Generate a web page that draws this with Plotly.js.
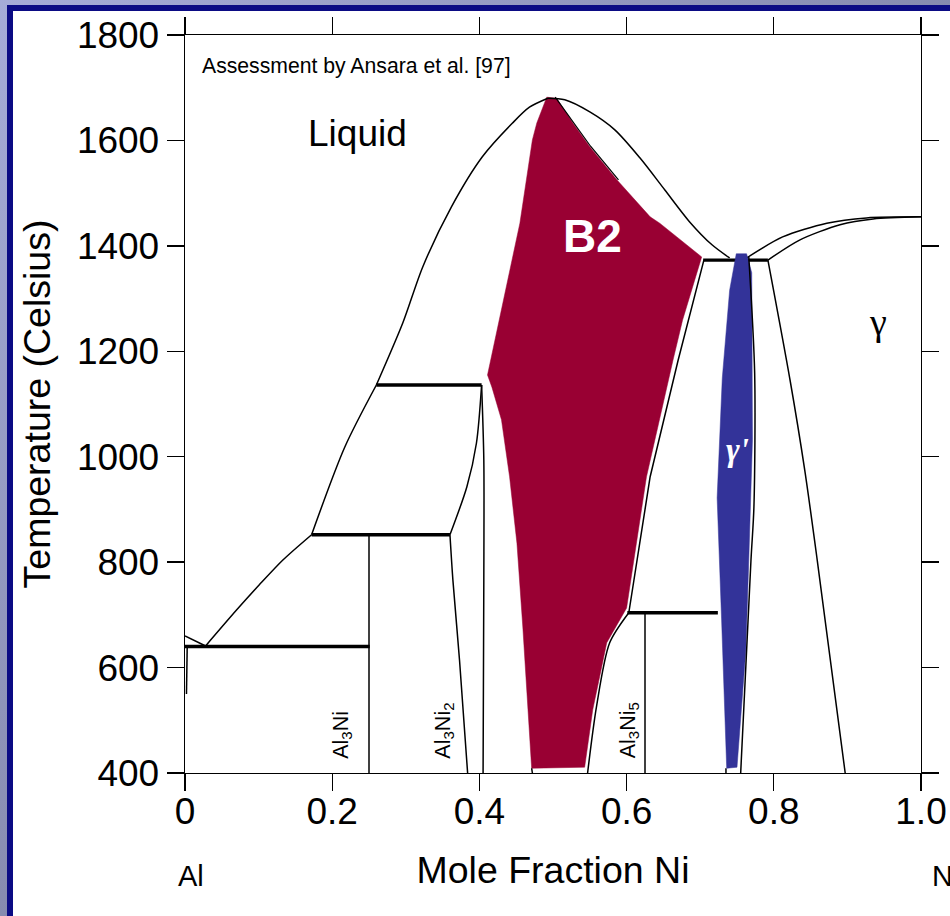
<!DOCTYPE html>
<html>
<head>
<meta charset="utf-8">
<script src="https://cdn.plot.ly/plotly-3.0.1.min.js"></script>
<style>
  html, body { margin:0; padding:0; width:950px; height:916px; overflow:hidden;
    background: linear-gradient(to bottom right, #a6acd8 0%, #8a8fb4 45%, #62667f 100%); }
  #panel { position:absolute; left:7px; top:5px; width:960px; height:930px; background:#fff;
    border-left:6px solid #0b0b84; border-top:6px solid #0b0b84; box-sizing:border-box; }
  #chart { position:absolute; left:0; top:0; width:950px; height:916px; }
</style>
</head>
<body>
<div id="panel"></div>
<div id="chart"></div>
<script>
// ---- axis ticks ----
const xTickVals = [0, 0.2, 0.4, 0.6, 0.8, 1.0];
const xTickText = ['0', '0.2', '0.4', '0.6', '0.8', '1.0'];
const yTickVals = [400, 600, 800, 1000, 1200, 1400, 1600, 1800];

// ---- phase boundaries (mole fraction Ni, temperature °C) ----
const alLiqX = [0, 0.028];                 const alLiqT = [660, 641];
const alSolvX = [0.003, 0.002];            const alSolvT = [641, 550];
const eut640X = [0, 0.251];                const eut640T = [640, 640];
const liqA_X = [0.028, 0.070, 0.101, 0.133, 0.172];
const liqA_T = [641, 709, 757, 804, 852];
const per852X = [0.172, 0.360];            const per852T = [852, 852];
const al3NiX = [0.25, 0.25];               const al3NiT = [400, 852];
const liqB_X = [0.172, 0.217, 0.260];
const liqB_T = [852, 1018, 1136];
const liqC_X = [0.260, 0.296, 0.323, 0.362, 0.404, 0.445, 0.468, 0.493];
const liqC_T = [1136, 1254, 1360, 1474, 1569, 1633, 1663, 1680];
const liqD_X = [0.493, 0.516, 0.550, 0.584, 0.618, 0.652, 0.686, 0.716, 0.740];
const liqD_T = [1680, 1677, 1654, 1620, 1567, 1506, 1445, 1402, 1377];
const per1136X = [0.260, 0.403];           const per1136T = [1136, 1136];
const al3Ni2LeftUpX = [0.403, 0.396, 0.383, 0.360];
const al3Ni2LeftUpT = [1136, 1026, 943, 852];
const al3Ni2LeftLoX = [0.360, 0.364, 0.373, 0.384];
const al3Ni2LeftLoT = [852, 766, 614, 400];
const al3Ni2RightX = [0.403, 0.406, 0.406, 0.405];
const al3Ni2RightT = [1136, 994, 766, 400];
const b2SolTopX = [0.503, 0.528, 0.551, 0.589];
const b2SolTopT = [1682, 1634, 1589, 1525];
const b2RightUpX = [0.705, 0.670, 0.632, 0.603];
const b2RightUpT = [1373, 1183, 962, 704];
const b2RightLoX = [0.603, 0.577, 0.559, 0.547];
const b2RightLoT = [704, 647, 525, 400];
const b2FootX = [0.471, 0.472];            const b2FootT = [409, 400];
const per1373X = [0.704, 0.792];           const per1373T = [1373, 1373];
const per704X = [0.601, 0.724];            const per704T = [704, 704];
const al3Ni5X = [0.625, 0.625];            const al3Ni5T = [400, 704];
const gpFootX = [0.735, 0.735];            const gpFootT = [409, 400];
const gpRightX = [0.766, 0.774, 0.773, 0.769, 0.755];
const gpRightT = [1379, 1159, 905, 804, 400];
const gSolvX = [0.792, 0.822, 0.842, 0.859, 0.897];
const gSolvT = [1373, 1146, 975, 804, 400];
const niLiqX = [0.763, 0.812, 0.872, 0.926, 1.0];
const niLiqT = [1377, 1417, 1443, 1453, 1455];
const niSolX = [0.792, 0.835, 0.890, 0.935, 1.0];
const niSolT = [1373, 1411, 1440, 1451, 1455];

// ---- single-phase regions (filled) ----
const b2X = [0.4915, 0.505, 0.527, 0.550, 0.587, 0.632, 0.645, 0.686, 0.702, 0.676, 0.663, 0.627, 0.600, 0.573, 0.554, 0.543, 0.471, 0.459, 0.451, 0.441, 0.430, 0.417, 0.411, 0.455, 0.472, 0.478, 0.4915];
const b2T = [1682, 1680, 1633, 1588, 1525, 1455, 1443, 1398, 1379, 1259, 1183, 962, 713, 647, 520, 411, 409, 677, 836, 962, 1070, 1132, 1155, 1443, 1601, 1633, 1682];
const gpX = [0.749, 0.763, 0.770, 0.771, 0.766, 0.762, 0.750, 0.736, 0.729, 0.723, 0.730, 0.740, 0.749];
const gpT = [1385, 1385, 1349, 1032, 804, 633, 411, 409, 694, 922, 1149, 1316, 1385];

const B2_COLOR = '#990033';
const GP_COLOR = '#333399';
const FONT = 'Liberation Sans, Arial, Helvetica, sans-serif';
const SERIF = 'Liberation Serif, DejaVu Serif, serif';

function ln(x, y, w, smooth) {
  return { type: 'scatter', mode: 'lines', x: x, y: y, hoverinfo: 'skip', showlegend: false,
    line: { color: '#000', width: w, shape: smooth ? 'spline' : 'linear', smoothing: 0.8 } };
}
function fill(x, y, c) {
  return { type: 'scatter', mode: 'lines', x: x, y: y, fill: 'toself', fillcolor: c,
    line: { color: c, width: 0.5 }, hoverinfo: 'skip', showlegend: false };
}

const THIN = 1.5, THICK = 3.4;
const traces = [
  fill(b2X, b2T, B2_COLOR),
  ln(alLiqX, alLiqT, THIN), ln(alSolvX, alSolvT, THIN),
  ln(eut640X, eut640T, THICK),
  ln(liqA_X, liqA_T, THIN, true),
  ln(per852X, per852T, THICK),
  ln(al3NiX, al3NiT, THIN),
  ln(liqB_X, liqB_T, THIN, true),
  ln(liqC_X, liqC_T, THIN, true),
  ln(liqD_X, liqD_T, THIN, true),
  ln(per1136X, per1136T, THICK),
  ln(al3Ni2LeftUpX, al3Ni2LeftUpT, THIN, true),
  ln(al3Ni2LeftLoX, al3Ni2LeftLoT, THIN, true),
  ln(al3Ni2RightX, al3Ni2RightT, THIN, true),
  ln(b2SolTopX, b2SolTopT, 1.2),
  ln(b2RightUpX, b2RightUpT, THIN),
  ln(b2RightLoX, b2RightLoT, THIN, true),
  ln(b2FootX, b2FootT, THIN),
  ln(per1373X, per1373T, THICK),
  ln(per704X, per704T, THICK),
  ln(al3Ni5X, al3Ni5T, THIN),
  ln(gpFootX, gpFootT, THIN),
  ln(gSolvX, gSolvT, THIN, true),
  ln(niLiqX, niLiqT, THIN, true),
  ln(niSolX, niSolT, THIN, true),
  fill(gpX, gpT, GP_COLOR),
  ln(gpRightX, gpRightT, THIN, true)
];

function txt(x, y, text, size, opts) {
  return Object.assign({ x: x, y: y, xref: 'x', yref: 'y', text: text, showarrow: false,
    font: { family: FONT, size: size, color: '#000' } }, opts || {});
}
const annotations = [
  txt(0.020, 1741, 'Assessment by Ansara et al. [97]', 21.2, { xanchor: 'left' }),
  txt(0.2345, 1614, 'Liquid', 37),
  txt(0.554, 1419, '<b>B2</b>', 46, { font: { family: FONT, size: 46, color: '#fff' } }),
  txt(0.9415, 1256, 'γ', 38, { font: { family: SERIF, size: 38, color: '#000' } }),
  txt(0.751, 1013, '<b><i>γ\'</i></b>', 33, { font: { family: SERIF, size: 33, color: '#fff' } }),
  txt(0.213, 472, 'Al<sub>3</sub>Ni', 21.5, { textangle: -90 }),
  txt(0.353, 480, 'Al<sub>3</sub>Ni<sub>2</sub>', 21.5, { textangle: -90 }),
  txt(0.604, 480, 'Al<sub>3</sub>Ni<sub>5</sub>', 21.5, { textangle: -90 }),
  { xref: 'paper', yref: 'paper', x: 0.0075, y: -0.139, text: 'Al', showarrow: false,
    xanchor: 'center', yanchor: 'middle', font: { family: FONT, size: 29, color: '#000' } },
  { xref: 'paper', yref: 'paper', x: 1.0122, y: -0.139, text: 'Ni', showarrow: false,
    xanchor: 'left', yanchor: 'middle', font: { family: FONT, size: 29, color: '#000' } }
];

const axisCommon = {
  showgrid: false, zeroline: false, showline: true, linecolor: '#000', linewidth: 1.4,
  ticks: 'outside', ticklen: 17, tickwidth: 1.4, tickcolor: '#000', mirror: 'ticks',
  tickfont: { family: FONT, size: 37, color: '#000' }
};

const layout = {
  width: 950, height: 916,
  margin: { l: 185, r: 29, t: 35, b: 143 },
  paper_bgcolor: 'rgba(0,0,0,0)', plot_bgcolor: '#fff',
  showlegend: false,
  xaxis: Object.assign({}, axisCommon, {
    range: [0, 1], tickvals: xTickVals, ticktext: xTickText, ticklabelstandoff: -12,
    title: { text: 'Mole Fraction Ni', font: { family: FONT, size: 37.5, color: '#000' }, standoff: 26 }
  }),
  yaxis: Object.assign({}, axisCommon, {
    range: [400, 1800], tickvals: yTickVals,
    title: { text: 'Temperature (Celsius)', font: { family: FONT, size: 37.5, color: '#000' }, standoff: 14 }
  }),
  annotations: annotations
};

Plotly.newPlot('chart', traces, layout, { staticPlot: true, displayModeBar: false });
</script>
</body>
</html>
